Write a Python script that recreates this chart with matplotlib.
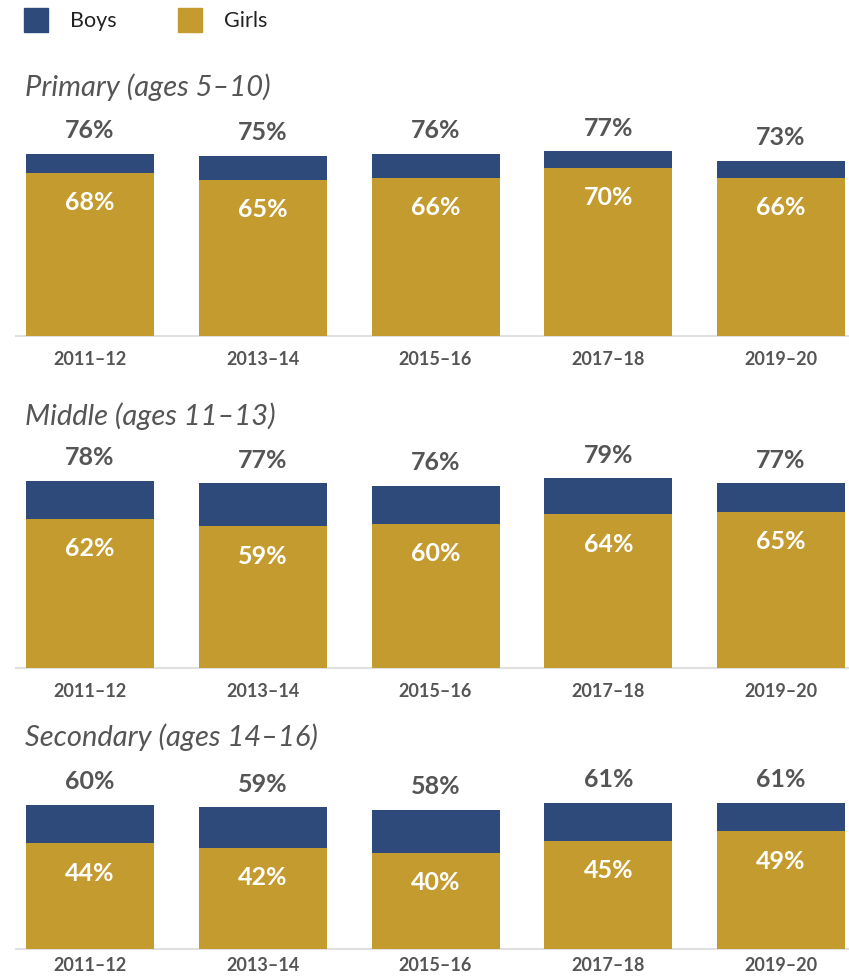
import matplotlib.pyplot as plt
from matplotlib.patches import Rectangle

plt.rcParams['font.family'] = ['Lato', 'DejaVu Sans']

# data
years = ['2011–12', '2013–14', '2015–16', '2017–18', '2019–20']
panels = ['Primary (ages 5–10)', 'Middle (ages 11–13)', 'Secondary (ages 14–16)']
boys_primary = [76, 75, 76, 77, 73]
girls_primary = [68, 65, 66, 70, 66]
boys_middle = [78, 77, 76, 79, 77]
girls_middle = [62, 59, 60, 64, 65]
boys_secondary = [60, 59, 58, 61, 61]
girls_secondary = [44, 42, 40, 45, 49]

boys_all = [boys_primary, boys_middle, boys_secondary]
girls_all = [girls_primary, girls_middle, girls_secondary]

BOYS = '#2e4a7a'
GIRLS = '#c49b2f'
GREY = '#555555'

W, H = 849, 978
fig = plt.figure(figsize=(W / 100, H / 100), dpi=100)

# pixel layout: baseline y for each panel, title y
baselines = [337, 669, 950]
title_y = [87, 416, 737]
tick_pad = [10, 10, 5]
px_per_pct = 2.4
ax_left, ax_right = 16, 849
x0, step = 90, 172.75

for i in range(3):
    top = baselines[i] - 100 * px_per_pct
    ax = fig.add_axes([ax_left / W, 1 - baselines[i] / H,
                       (ax_right - ax_left) / W, (baselines[i] - top) / H])
    ax.set_ylim(0, 100)
    ax.set_xlim((ax_left - x0) / step, (ax_right - x0) / step)
    xs = list(range(len(years)))
    ax.bar(xs, boys_all[i], width=128 / step, color=BOYS, zorder=2)
    ax.bar(xs, girls_all[i], width=128 / step, color=GIRLS, zorder=3)
    for x, b, g in zip(xs, boys_all[i], girls_all[i]):
        ax.text(x, b + 10, f'{b}%', ha='center', va='center',
                fontsize=18, fontweight='bold', color=GREY)
        ax.text(x, g - 12, f'{g}%', ha='center', va='center',
                fontsize=18, fontweight='bold', color='white', zorder=4)
    for s in ['top', 'right', 'left']:
        ax.spines[s].set_visible(False)
    ax.spines['bottom'].set_color('#e0e0e0')
    ax.spines['bottom'].set_linewidth(1.5)
    ax.set_yticks([])
    ax.set_xticks(xs)
    ax.set_xticklabels(years, fontsize=13, fontweight='bold', color=GREY)
    ax.tick_params(axis='x', length=0, pad=tick_pad[i])
    fig.text(25 / W, 1 - title_y[i] / H, panels[i], ha='left', va='center',
             fontsize=21, style='italic', color=GREY)

# legend
for lx, tx, lab, col in [(24, 70, 'Boys', BOYS), (178, 224, 'Girls', GIRLS)]:
    fig.patches.append(Rectangle((lx / W, 1 - 33 / H), 24 / W, 24 / H,
                                 transform=fig.transFigure, color=col))
    fig.text(tx / W, 1 - 21 / H, lab, ha='left', va='center',
             fontsize=15.5, color='#222222')

fig.savefig('out.png', dpi=100)
